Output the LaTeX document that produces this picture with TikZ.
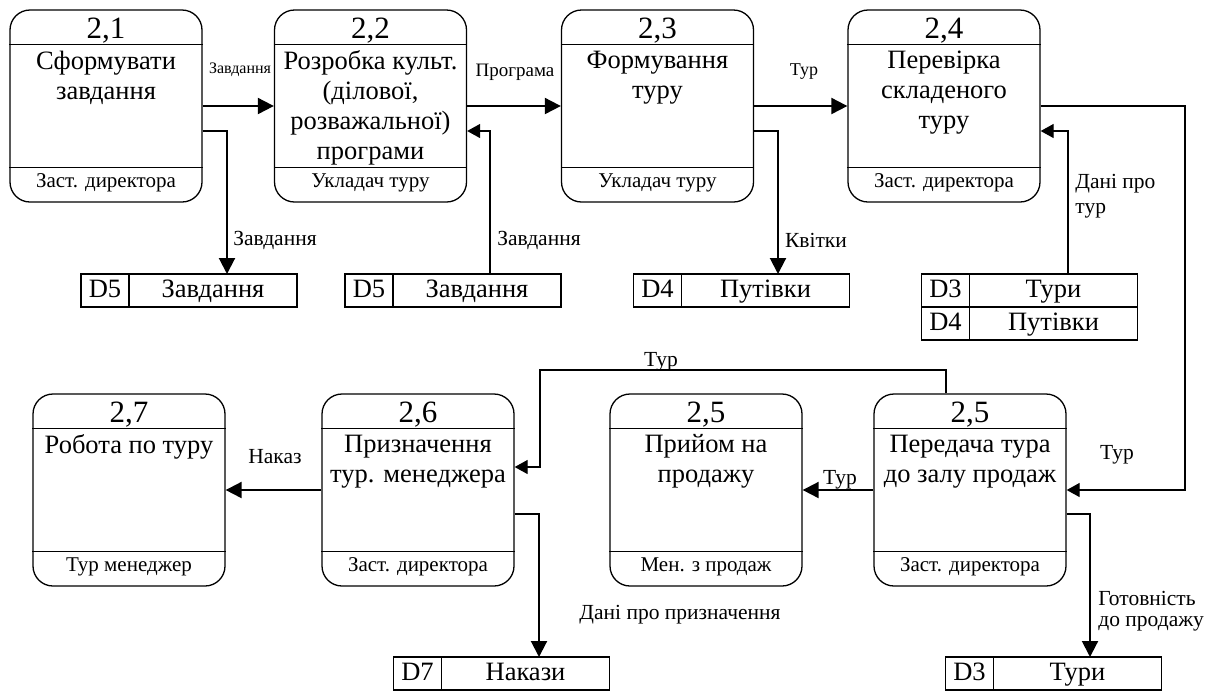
\documentclass[tikz,border=0pt]{standalone}
\usepackage{fontspec}
\setmainfont{Liberation Serif}
\usetikzlibrary{positioning,arrows.meta}

\begin{document}
\begin{tikzpicture}[x=0.5pt, y=-0.5pt,
procbox/.style={rectangle, rounded corners=10pt, draw, line width=0.65pt, minimum width=96pt, minimum height=96pt},
numtext/.style={font=\fontsize{15.5}{18}\selectfont, anchor=base, inner sep=0pt},
titletext/.style={font=\fontsize{13.25}{15}\selectfont, align=center, anchor=north, inner sep=0pt},
roletext/.style={font=\fontsize{10.5}{12}\selectfont, anchor=base, inner sep=0pt},
storeid/.style={rectangle, draw, line width=0.65pt, minimum width=24pt, minimum height=16.5pt, inner sep=0pt, outer sep=0pt, text height=9.5pt, text depth=3pt, font=\fontsize{13.25}{15}\selectfont},
storename/.style={storeid, minimum width=84pt},
mainflow/.style={line width=1pt, -{Triangle[length=8pt,width=8pt]}},
sideflow/.style={line width=0.65pt, -{Triangle[length=6.5pt,width=7pt]}},
lbl/.style={font=\fontsize{10.75}{10.5}\selectfont, inner sep=0pt},
]
\useasboundingbox (0,0) rectangle (1208,693);

%Nodes
\foreach \n/\x/\y/\num/\txt/\who in {
  p21/106/106/{2,1}/{Сформувати\\завдання}/{Заст. директора},
  p22/370.5/106/{2,2}/{Розробка культ.\\(ділової,\\розважальної)\\програми}/{Укладач туру},
  p23/657.5/106/{2,3}/{Формування\\туру}/{Укладач туру},
  p24/944/106/{2,4}/{Перевірка\\складеного\\туру}/{Заст. директора},
  p27/129/490/{2,7}/{Робота по туру}/{Тур менеджер},
  p26/418/490/{2,6}/{Призначення\\тур. менеджера}/{Заст. директора},
  p25a/706/490/{2,5}/{Прийом на\\продажу}/{Мен. з продаж},
  p25b/970/490/{2,5}/{Передача тура\\до залу продаж}/{Заст. директора}}
{
  \node[procbox] (\n) at (\x,\y) {};
  \draw[line width=0.65pt] ([yshift=-17.5pt]\n.north west) -- ([yshift=-17.5pt]\n.north east);
  \draw[line width=0.65pt] ([yshift=17.5pt]\n.south west) -- ([yshift=17.5pt]\n.south east);
  \node[numtext] (\n-num) at ([yshift=-14.5pt]\n.north) {\num};
  \node[titletext] (\n-txt) at ([yshift=-20.5pt]\n.north) {\txt};
  \node[roletext] (\n-who) at ([yshift=7.5pt]\n.south) {\who};
}

\node[storeid] (s1id) at (105,290.5) {D5};
\node[storename, right=0pt of s1id] (s1) {Завдання};

\node[storeid] (s2id) at (369,290.5) {D5};
\node[storename, right=0pt of s2id] (s2) {Завдання};

\node[storeid] (s3id) at (657.5,290.5) {D4};
\node[storename, right=0pt of s3id] (s3) {Путівки};

\node[storeid] (s4id) at (945.5,290.5) {D3};
\node[storename, right=0pt of s4id] (s4) {Тури};
\node[storeid, below=0pt of s4id] (s4bid) {D4};
\node[storename, right=0pt of s4bid] (s4b) {Путівки};

\node[storeid] (s5id) at (417.5,673.5) {D7};
\node[storename, right=0pt of s5id] (s5) {Накази};

\node[storeid] (s6id) at (969.5,673.5) {D3};
\node[storename, right=0pt of s6id] (s6) {Тури};

%Labels
\node[lbl, font=\fontsize{8}{9}\selectfont] (l1) at (240,70) {Завдання};
\node[lbl, font=\fontsize{9.5}{10}\selectfont] (l2) at (515,72) {Програма};
\node[lbl, font=\fontsize{9}{10}\selectfont] (l3) at (804,72) {Тур};
\node[lbl] (l4) at (275,240) {Завдання};
\node[lbl] (l5) at (539,240) {Завдання};
\node[lbl] (l6) at (816,240) {Квітки};
\node[lbl, align=left, anchor=north west, font=\fontsize{10.75}{12.5}\selectfont] (l7) at (1075,174) {Дані про\\тур};
\node[lbl] (l8) at (661,362) {Тур};
\node[lbl] (l9) at (840,480) {Тур};
\node[lbl] (l10) at (1117,455) {Тур};
\node[lbl] (l11) at (275,457) {Наказ};
\node[lbl] (l12) at (680,615) {Дані про призначення};
\node[lbl, align=left, anchor=north west] (l13) at (1098,591) {Готовність\\до продажу};

%Lines
\draw[mainflow] (p21.east) -- (p22.west);
\draw[mainflow] (p22.east) -- (p23.west);
\draw[mainflow] (p23.east) -- (p24.west);
\draw[mainflow] (p21.east |- 0,131) -| (s1.north -| 227,0);
\draw[sideflow] (s2.north -| 490,0) |- (p22.east |- 0,131);
\draw[mainflow] (p23.east |- 0,131) -| (s3.north -| 778,0);
\draw[sideflow] (s4.north -| 1068,0) |- (p24.east |- 0,131);
\draw[sideflow] (p24.east) -| (1185,490) -- (p25b.east);
\draw[sideflow] (p25b.north -| 946,0) |- (540,370) |- (p26.east |- 0,467);
\draw[mainflow] (p25b.west) -- (p25a.east);
\draw[mainflow] (p26.west) -- (p27.east);
\draw[mainflow] (p26.east |- 0,514) -| (s5.north -| 539,0);
\draw[mainflow] (p25b.east |- 0,514) -| (s6.north -| 1090,0);

\end{tikzpicture}
\end{document}
